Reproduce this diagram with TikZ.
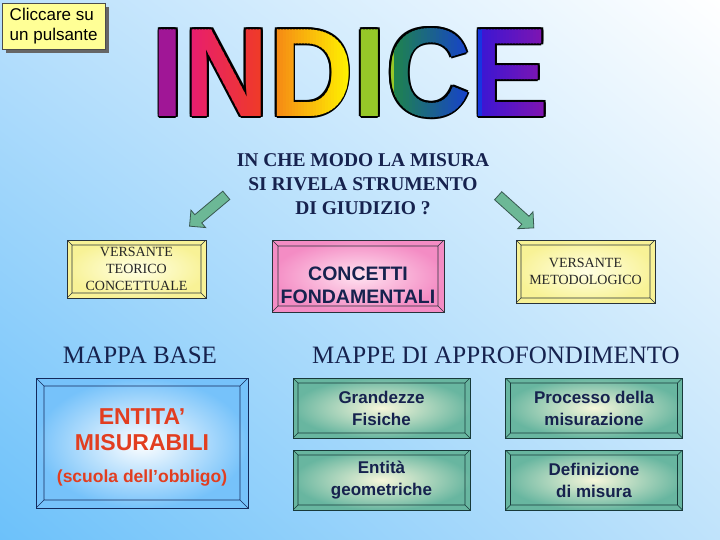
\documentclass[tikz,border=0pt]{standalone}
\usepackage{fontspec}
\setmainfont{Liberation Serif}
\newfontfamily\arialfont{Liberation Sans}
\usetikzlibrary{positioning,shapes.arrows,shadows,shadings}
\definecolor{BgDeep}{RGB}{108,193,250}
\definecolor{BgMid}{RGB}{185,224,252}
\definecolor{BgLow}{RGB}{192,227,251}
\definecolor{NavyText}{RGB}{22,34,78}
\definecolor{RedText}{RGB}{226,62,32}
\definecolor{BoxEdge}{RGB}{40,50,58}
\definecolor{ClickYellow}{RGB}{255,255,150}
\definecolor{YellowOut}{RGB}{248,242,150}
\definecolor{YellowIn}{RGB}{255,255,228}
\definecolor{PinkOut}{RGB}{244,140,196}
\definecolor{PinkIn}{RGB}{255,226,240}
\definecolor{BlueOut}{RGB}{118,194,250}
\definecolor{BlueEdge}{RGB}{20,42,92}
\definecolor{TealOut}{RGB}{104,182,160}
\definecolor{TealIn}{RGB}{246,246,218}
\definecolor{TealEdge}{RGB}{24,58,58}
\definecolor{ArrowGreen}{RGB}{108,184,150}
\definecolor{ArrowEdge}{RGB}{56,88,80}
% letter colours of the title
\definecolor{IndPurple}{RGB}{160,22,150}
\definecolor{IndPink}{RGB}{232,30,110}
\definecolor{IndRed}{RGB}{240,62,30}
\definecolor{IndOrange}{RGB}{245,128,22}
\definecolor{IndYellow}{RGB}{255,245,0}
\definecolor{IndLime}{RGB}{150,200,40}
\definecolor{IndGreen}{RGB}{30,130,80}
\definecolor{IndBlue}{RGB}{22,52,228}
\definecolor{IndViolet}{RGB}{62,22,210}
\definecolor{IndMagenta}{RGB}{140,20,170}
\tikzset{
  bevel/.style n args={2}{path picture={
      \draw[draw=#2,line width=0.6pt]
        ([shift={(#1,-#1)}]path picture bounding box.north west) rectangle
        ([shift={(-#1,#1)}]path picture bounding box.south east)
        (path picture bounding box.north west) -- ++(#1,-#1)
        (path picture bounding box.north east) -- ++(-#1,-#1)
        (path picture bounding box.south west) -- ++(#1,#1)
        (path picture bounding box.south east) -- ++(-#1,#1);
  }},
  clickbox/.style={draw=black!70,fill=ClickYellow,align=left,inner sep=4pt,
    font=\arialfont\fontsize{17}{20}\selectfont,
    drop shadow={shadow xshift=4pt,shadow yshift=-4pt,fill=black!60,opacity=1}},
  indiceletters/.style={font=\arialfont\bfseries\fontsize{126}{126}\selectfont,inner sep=0pt,xscale=0.93},
  question/.style={align=center,text=NavyText,font=\bfseries\fontsize{19.5}{24}\selectfont},
  blockarrow/.style={single arrow,draw=ArrowEdge,fill=ArrowGreen,line width=0.8pt,
    minimum height=48pt,inner sep=5pt,single arrow head extend=6pt},
  yellowbox/.style={draw=BoxEdge,inner color=YellowIn,outer color=YellowOut,bevel={5pt}{BoxEdge},
    align=center,text=black!85,font=\fontsize{14}{17}\selectfont},
  pinkbox/.style={draw=BoxEdge,inner color=PinkIn,outer color=PinkOut,bevel={6pt}{BoxEdge}},
  bluebox/.style={draw=BlueEdge,line width=0.8pt,inner color=white,outer color=BlueOut,bevel={8pt}{BlueEdge}},
  tealbox/.style={draw=TealEdge,inner color=TealIn,outer color=TealOut,bevel={5pt}{TealEdge},
    minimum width=177pt,minimum height=60pt,align=center,text=NavyText,
    font=\arialfont\bfseries\fontsize{17}{22}\selectfont},
  maptitle/.style={text=NavyText,font=\fontsize{25}{28}\selectfont}
}
\begin{document}
\begin{tikzpicture}[x=1pt,y=-1pt]
  % background
  \shade[upper left=BgMid,upper right=white,lower left=BgDeep,lower right=BgLow] (0,0) rectangle (720,540);
  \useasboundingbox (0,0) rectangle (720,540);

  \node[clickbox,minimum width=103pt,minimum height=46pt,anchor=north west] (clicca) at (2,3) {Cliccare su\\un pulsante};

  % title: black outline, then the letters in thin coloured bands
  \foreach \dx/\dy [count=\k] in {-1.6/-1.6,0/-1.8,1.6/-1.6,-1.8/0,1.8/0,-1.6/1.6,0/1.8,1.6/1.6}
    \node[indiceletters,text=black] (outline\k) at (350.5+\dx,73+\dy) {INDICE};
  \foreach \xa/\xb/\ca/\cb [count=\a] in {146/190/IndPurple/IndPurple,190/268/IndPink/IndRed,
      268/350/IndOrange/IndYellow,350/394/IndLime/IndLime,394/482/IndGreen/IndBlue,482/556/IndViolet/IndMagenta}{
    \pgfmathtruncatemacro\nbands{(\xb-\xa)/3}
    \foreach \s in {0,...,\nbands}{
      \pgfmathsetmacro\xs{\xa+3*\s}
      \pgfmathtruncatemacro\pc{100*\s/\nbands}
      \begin{scope}
        \clip (\xs,20) rectangle (\xs+3.4,126);
        \node[indiceletters,text=\cb!\pc!\ca] (band\a-\s) at (350.5,73) {INDICE};
      \end{scope}
    }
  }

  \node[question] (question) at (363,184) {IN CHE MODO LA MISURA\\SI RIVELA STRUMENTO\\DI GIUDIZIO ?};
  \node[blockarrow,rotate=220] (arrowleft) at (210,209) {};
  \node[blockarrow,rotate=-42] (arrowright) at (514,210) {};

  \node[yellowbox,minimum width=139pt,minimum height=58pt] (teorico) at (136.5,269) {VERSANTE\\TEORICO\\CONCETTUALE};
  \node[pinkbox,minimum width=172pt,minimum height=72pt] (concetti) at (358,276) {};
  \node[align=center,text=NavyText,font=\arialfont\bfseries\fontsize{19.5}{23}\selectfont] (concettitext) at (358,285) {CONCETTI\\FONDAMENTALI};
  \node[yellowbox,minimum width=139pt,minimum height=63pt] (metodo) at (585.5,271.5) {VERSANTE\\METODOLOGICO};

  \node[maptitle] (mappabase) at (140,355) {MAPPA BASE};
  \node[maptitle] (mappeappro) at (496,355) {MAPPE DI APPROFONDIMENTO};

  \node[bluebox,minimum width=212pt,minimum height=130pt] (entita) at (142,443) {};
  \node[align=center,text=RedText,font=\arialfont\bfseries\fontsize{23}{26}\selectfont] (entitatext) at (142,447)
    {ENTITA’\\MISURABILI\\[6pt]{\fontsize{17.5}{20}\selectfont(scuola dell’obbligo)}};

  \node[tealbox] (grandezze) at (381.5,408) {Grandezze\\Fisiche};
  \node[tealbox] (processo) at (594,408) {Processo della\\misurazione};
  \node[tealbox] (geometriche) at (381.5,480) {Entità\\geometriche};
  \node[tealbox] (definizione) at (594,480) {Definizione\\di misura};
\end{tikzpicture}
\end{document}
